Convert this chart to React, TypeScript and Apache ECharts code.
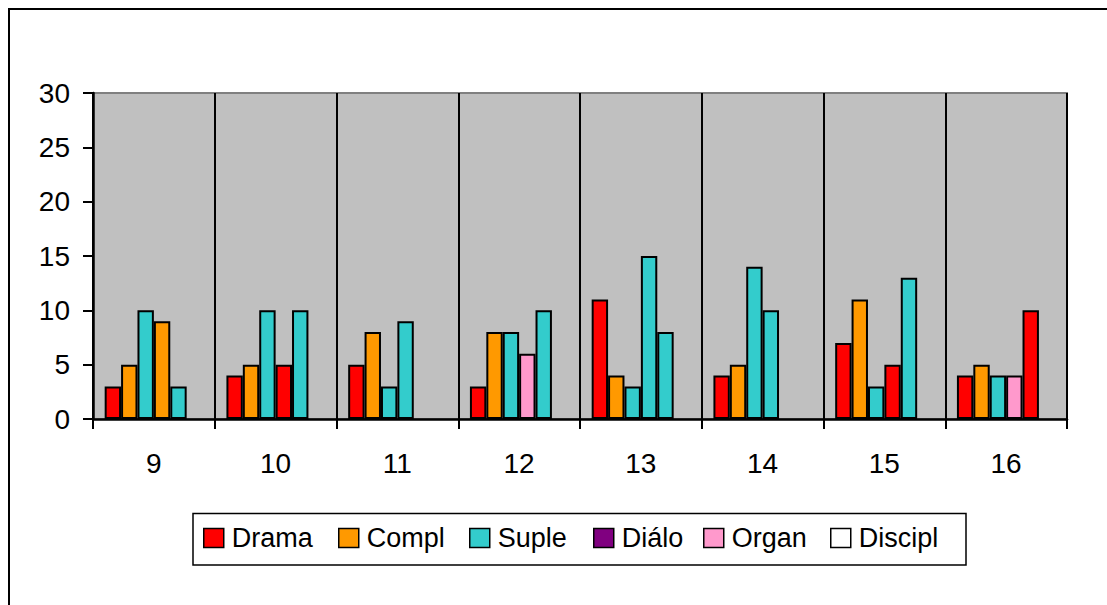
import React, { useEffect, useRef } from "react";
import * as echarts from "echarts";

// ---- data ----
const categories = ["9", "10", "11", "12", "13", "14", "15", "16"];
const seriesNames = ["Drama", "Compl", "Suple", "Diálo", "Organ", "Discipl"];
const seriesColours: Record<string, string> = {
  Drama: "#FF0000",
  Compl: "#FF9900",
  Suple: "#33CCCC",
  "Diálo": "#800080",
  Organ: "#FF99CC",
  Discipl: "#FFFFFF",
};

const dramaValues = [3, 4, 5, 3, 11, 4, 7, 4];
const complValues = [5, 5, 8, 8, 4, 5, 11, 5];
const supleValues = [10, 10, 3, 8, 3, 14, 3, 4];
const dialoValues = [9, 5, 9, 6, 15, 10, 5, 4];
const organValues = [3, 10, null, 10, 8, null, 13, 10];
const disciplValues = [null, null, null, null, null, null, null, null];

// colour actually shown by each bar (as in the picture)
const dialoBarColours = ["Compl", "Drama", "Suple", "Organ", "Suple", "Suple", "Drama", "Organ"];
const organBarColours = ["Suple", "Suple", null, "Suple", "Suple", null, "Suple", "Drama"];

const yTicks = { min: 0, max: 30, interval: 5 };

const FONT = "'Liberation Sans', Arial, sans-serif";
const legendLefts = [203, 338, 469, 593, 703, 830];

export default function App() {
  const ref = useRef<HTMLDivElement>(null);

  useEffect(() => {
    document.body.style.margin = "0";
    const chart = echarts.init(ref.current!, null, { renderer: "svg" });

    const valuesBySeries: (number | null)[][] = [
      dramaValues,
      complValues,
      supleValues,
      dialoValues,
      organValues,
      disciplValues,
    ];
    const colourKeysBySeries: (string | null)[][] = [
      categories.map(() => "Drama"),
      categories.map(() => "Compl"),
      categories.map(() => "Suple"),
      dialoBarColours,
      organBarColours,
      categories.map(() => "Discipl"),
    ];

    const series = seriesNames.map((name, si) => ({
      name,
      type: "bar",
      barWidth: 16.4,
      barGap: "0%",
      itemStyle: {
        color: seriesColours[name],
        borderColor: "#000",
        borderWidth: 2,
      },
      data: valuesBySeries[si].map((v, ci) => {
        const key = colourKeysBySeries[si][ci];
        return v == null
          ? null
          : { value: v, itemStyle: { color: seriesColours[key || name] } };
      }),
    }));

    const legends = seriesNames.map((name, i) => ({
      data: [name],
      left: legendLefts[i],
      top: 524,
      padding: 0,
      itemWidth: 20,
      itemHeight: 19,
      icon: "rect",
      selectedMode: false,
      itemStyle: { borderColor: "#000", borderWidth: 1.5 },
      textStyle: {
        fontSize: 27,
        color: "#000",
        fontFamily: FONT,
        lineHeight: 28,
        padding: [0, 0, 0, 3],
      },
    }));

    chart.setOption({
      animation: false,
      backgroundColor: "#fff",
      textStyle: { fontFamily: FONT },
      grid: {
        left: 93,
        right: 40,
        top: 93,
        bottom: 186,
        show: true,
        backgroundColor: "#C0C0C0",
        borderColor: "#808080",
        borderWidth: 2,
        containLabel: false,
      },
      xAxis: {
        type: "category",
        data: categories,
        axisLine: { show: true, lineStyle: { color: "#000", width: 2.5 } },
        axisTick: { show: true, length: 10, lineStyle: { color: "#000", width: 2 } },
        axisLabel: { fontSize: 28, color: "#000", margin: 30, fontFamily: FONT },
        splitLine: { show: true, lineStyle: { color: "#000", width: 2 } },
      },
      yAxis: {
        type: "value",
        min: yTicks.min,
        max: yTicks.max,
        interval: yTicks.interval,
        axisLine: { show: true, lineStyle: { color: "#000", width: 2.5 } },
        axisTick: { show: true, length: 10, lineStyle: { color: "#000", width: 2 } },
        axisLabel: { fontSize: 28, color: "#000", margin: 23, fontFamily: FONT },
        splitLine: { show: false },
      },
      legend: legends,
      graphic: [
        {
          type: "rect",
          z: 0,
          shape: { x: 9, y: 9, width: 1300, height: 800 },
          style: { fill: "none", stroke: "#000", lineWidth: 2 },
          silent: true,
        },
        {
          type: "rect",
          z: 0,
          shape: { x: 193, y: 513.5, width: 773, height: 51.5 },
          style: { fill: "#fff", stroke: "#000", lineWidth: 1.5 },
          silent: true,
        },
      ],
      series,
    });

    return () => chart.dispose();
  }, []);

  return <div ref={ref} style={{ width: 1107, height: 605 }} />;
}
